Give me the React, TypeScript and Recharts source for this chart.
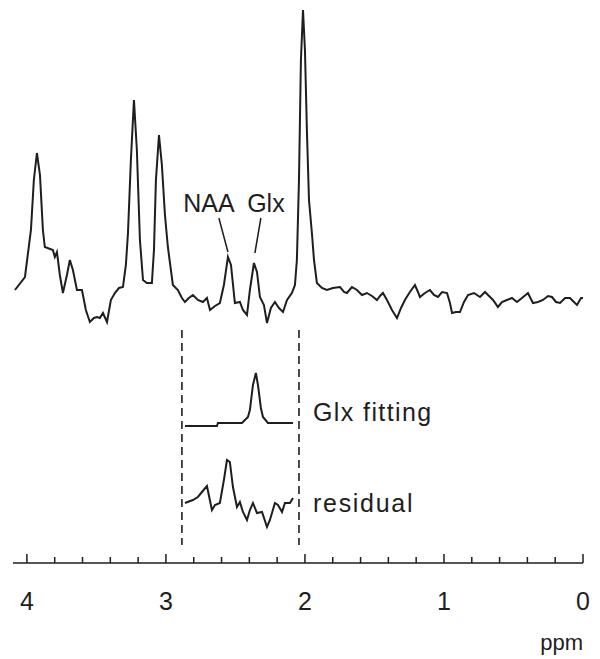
import * as React from "react";
import { ComposedChart, Line, XAxis, YAxis, ReferenceLine, ReferenceDot } from "recharts";

// spectrum (ppm, intensity above baseline)
const specPpm = [
  4.086, 4.014, 3.971, 3.95, 3.928, 3.906, 3.885, 3.871, 3.813, 3.799, 3.784, 3.763, 3.741, 3.712, 3.691,
  3.669, 3.64, 3.604, 3.576, 3.547, 3.518, 3.496, 3.475, 3.453, 3.424, 3.396, 3.367, 3.338, 3.309, 3.288,
  3.273, 3.252, 3.23, 3.209, 3.187, 3.165, 3.137, 3.101, 3.086, 3.072, 3.05, 3.029, 3.007, 2.986, 2.95,
  2.914, 2.885, 2.863, 2.835, 2.806, 2.77, 2.734, 2.705, 2.683, 2.647, 2.612, 2.583, 2.554, 2.532, 2.504,
  2.468, 2.446, 2.417, 2.396, 2.367, 2.345, 2.324, 2.295, 2.273, 2.245, 2.216, 2.187, 2.158, 2.129, 2.094,
  2.072, 2.058, 2.043, 2.029, 2.014, 2.0, 1.986, 1.971, 1.95, 1.935, 1.914, 1.878, 1.842, 1.799, 1.748,
  1.719, 1.698, 1.662, 1.626, 1.59, 1.554, 1.518, 1.482, 1.46, 1.439, 1.41, 1.374, 1.338, 1.309, 1.281,
  1.245, 1.209, 1.187, 1.173, 1.137, 1.101, 1.072, 1.043, 1.014, 0.978, 0.957, 0.942, 0.914, 0.885, 0.856,
  0.827, 0.784, 0.741, 0.705, 0.676, 0.647, 0.612, 0.583, 0.547, 0.511, 0.475, 0.439, 0.396, 0.36, 0.324,
  0.288, 0.252, 0.223, 0.194, 0.165, 0.129, 0.094, 0.065, 0.043, 0.014, 0.0,
];
const specVal = [
  8, 21, 68, 118, 145, 123, 68, 51, 48, 41, 46, 23, 5, 23, 38,
  28, 8, 8, -12, -24, -20, -19, -20, -15, -24, -2, 5, 10, 11, 33,
  65, 138, 198, 148, 58, 18, 15, 15, 48, 118, 163, 133, 83, 51, 13,
  8, 0, -4, 0, 3, -2, -4, 0, -12, -8, -5, 13, 41, 33, -5,
  -4, -12, -17, 8, 35, 26, 1, -7, -25, -10, -4, -10, -14, -2, 5,
  13, 38, 118, 238, 288, 248, 168, 98, 65, 38, 15, 10, 8, 10, 11,
  6, 5, 11, 8, 3, 5, 2, -2, 2, 5, -2, -12, -20, -10, -2,
  6, 13, 6, 1, 5, 8, 3, 1, 6, 5, -5, -15, -14, -14, -4,
  3, 5, 1, 6, 2, -2, -9, -4, -2, 0, -4, 0, 5, -5, -4,
  -2, 2, 1, -4, -5, 0, 0, -4, -7, 0, 0,
];

const fitPpm = [2.863, 2.633, 2.626, 2.453, 2.41, 2.396, 2.374, 2.353, 2.338, 2.317, 2.302, 2.266, 2.086];
const fitVal = [-3, -3, 0, 0, 6, 13, 38, 50, 38, 15, 6, 0, 0];

const resPpm = [
  2.863, 2.806, 2.77, 2.741, 2.705, 2.669, 2.647, 2.612, 2.583, 2.561, 2.54, 2.518, 2.489, 2.468,
  2.446, 2.417, 2.396, 2.374, 2.345, 2.309, 2.273, 2.252, 2.216, 2.194, 2.165, 2.144, 2.108, 2.086,
];
const resVal = [
  0, 3, 6, 11, 17, -7, -2, 0, 23, 43, 41, 16, -4, 1,
  -9, -17, -7, 0, -10, -9, -24, -17, 0, -2, -9, 0, 0, 5,
];

const axisTicks = [4, 3.8, 3.6, 3.4, 3.2, 3, 2.8, 2.6, 2.4, 2.2, 2, 1.8, 1.6, 1.4, 1.2, 1, 0.8, 0.6, 0.4, 0.2, 0];
const majorTicks = [4, 3, 2, 1, 0];
const fitRange = [2.885, 2.043];

// vertical offsets of the stacked traces
const FIT_OFFSET = -125;
const RES_OFFSET = -205;

const ink = "#1e1e1e";
const font = "'Liberation Sans', Arial, sans-serif";

const spectrum = specPpm.map((p, i) => ({ ppm: p, v: specVal[i] }));
const fit = fitPpm.map((p, i) => ({ ppm: p, v: fitVal[i] + FIT_OFFSET }));
const residual = resPpm.map((p, i) => ({ ppm: p, v: resVal[i] + RES_OFFSET }));

function PpmTick(props: any) {
  const { x, y, payload } = props;
  const val = Math.round(payload.value * 10) / 10;
  const major = majorTicks.includes(val);
  return (
    <g>
      <line x1={x} y1={y} x2={x} y2={y - (major ? 9 : 6)} stroke={ink} strokeWidth={1.5} />
      {major && (
        <text x={x} y={y + 47} textAnchor="middle" fontSize={25} fontFamily={font} fill={ink}>
          {val}
        </text>
      )}
    </g>
  );
}

function textLabel(text: string, anchor: "middle" | "start" | "end", size = 25, spacing = 0) {
  return (props: any) => {
    const { viewBox } = props;
    return (
      <text
        x={viewBox.x}
        y={viewBox.y}
        textAnchor={anchor}
        fontSize={size}
        letterSpacing={spacing}
        fontFamily={font}
        fill={ink}
      >
        {text}
      </text>
    );
  };
}

export default function App() {
  return (
    <div style={{ position: "absolute", left: 0, top: 0, background: "#fff" }}>
      <ComposedChart width={600} height={659} margin={{ top: 0, right: 17, bottom: 0, left: 13 }}>
        <XAxis
          type="number"
          dataKey="ppm"
          domain={[0, 4.1]}
          reversed
          allowDataOverflow
          ticks={axisTicks}
          tick={<PpmTick />}
          tickLine={false}
          tickSize={0}
          tickMargin={0}
          height={96}
          axisLine={{ stroke: ink, strokeWidth: 1.5 }}
        />
        <YAxis type="number" domain={[-265, 298]} hide allowDataOverflow />
        {fitRange.map((p) => (
          <ReferenceLine
            key={p}
            segment={[{ x: p, y: -32 }, { x: p, y: -247 }]}
            stroke={ink}
            strokeWidth={1.6}
            strokeDasharray="8 5"
            ifOverflow="visible"
          />
        ))}
        <ReferenceLine segment={[{ x: 2.619, y: 80 }, { x: 2.554, y: 46 }]} stroke={ink} strokeWidth={1.5} ifOverflow="visible" />
        <ReferenceLine segment={[{ x: 2.317, y: 80 }, { x: 2.36, y: 45 }]} stroke={ink} strokeWidth={1.5} ifOverflow="visible" />
        <ReferenceDot x={2.691} y={86} r={0} fill="none" stroke="none" ifOverflow="visible" label={textLabel("NAA", "middle")} />
        <ReferenceDot x={2.281} y={86} r={0} fill="none" stroke="none" ifOverflow="visible" label={textLabel("Glx", "middle")} />
        <ReferenceDot x={1.942} y={-123} r={0} fill="none" stroke="none" ifOverflow="visible" label={textLabel("Glx fitting", "start", 25, 1.4)} />
        <ReferenceDot x={1.942} y={-214} r={0} fill="none" stroke="none" ifOverflow="visible" label={textLabel("residual", "start", 25, 1.7)} />
        <ReferenceDot x={0} y={-352} r={0} fill="none" stroke="none" ifOverflow="visible" label={textLabel("ppm", "end", 22)} />
        <Line data={spectrum} dataKey="v" type="linear" stroke={ink} strokeWidth={2} dot={false} isAnimationActive={false} />
        <Line data={fit} dataKey="v" type="linear" stroke={ink} strokeWidth={2} dot={false} isAnimationActive={false} />
        <Line data={residual} dataKey="v" type="linear" stroke={ink} strokeWidth={2} dot={false} isAnimationActive={false} />
      </ComposedChart>
    </div>
  );
}
